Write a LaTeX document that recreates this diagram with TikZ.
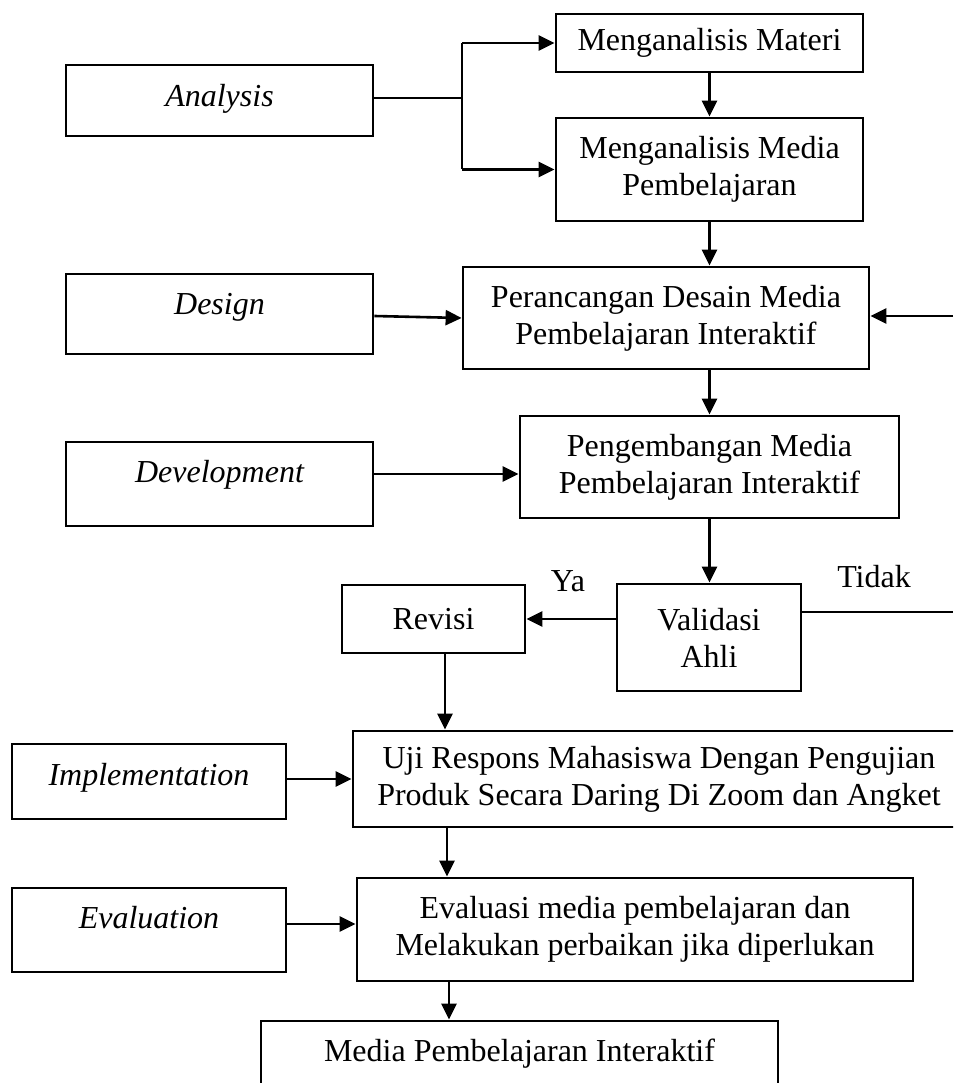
\documentclass[tikz,border=0pt]{standalone}
\usepackage{fontspec}
\setmainfont{Liberation Serif}
\usetikzlibrary{arrows.meta}
\begin{document}
\begin{tikzpicture}[x=1pt,y=-1pt,
  box/.style={draw,line width=2.8pt,inner sep=0pt,align=center,font=\fontsize{32}{37}\selectfont},
  lbl/.style={inner sep=0pt,anchor=base,font=\fontsize{32}{37}\selectfont},
  ln/.style={line width=2.6pt},
  arr/.style={line width=2.6pt,-{Triangle[length=16pt,width=15pt]}}]
\useasboundingbox (0,0) rectangle (953,1083);
\clip (0,0) rectangle (953,1083);
% left phase boxes
\node[box,minimum width=307,minimum height=71] (analysis) at (219.5,100.5) {};
\node[lbl] (analysisT) at (219.5,107) {\itshape Analysis};
\node[box,minimum width=307,minimum height=80] (design) at (219.5,314) {};
\node[lbl] (designT) at (219.5,314) {\itshape Design};
\node[box,minimum width=307,minimum height=84] (dev) at (219.5,484) {};
\node[lbl] (devT) at (219.5,482) {\itshape Development};
\node[box,minimum width=274,minimum height=75] (impl) at (149,781.5) {};
\node[lbl] (implT) at (149,785) {\itshape Implementation};
\node[box,minimum width=274,minimum height=84] (evalL) at (149,930) {};
\node[lbl] (evalLT) at (149,928) {\itshape Evaluation};
% main flow boxes
\node[box,minimum width=307,minimum height=58] (materi) at (709.5,43) {Menganalisis Materi};
\node[box,minimum width=307,minimum height=103] (media) at (709.5,169.5) {Menganalisis Media\\Pembelajaran};
\node[box,minimum width=406,minimum height=102] (peranc) at (666,318) {Perancangan Desain Media\\Pembelajaran Interaktif};
\node[box,minimum width=379,minimum height=102] (peng) at (709.5,467) {Pengembangan Media\\Pembelajaran Interaktif};
\node[box,minimum width=184,minimum height=107] (valid) at (709,637.5) {Validasi\\Ahli};
\node[box,minimum width=183,minimum height=68] (revisi) at (433.5,619) {Revisi};
\node[box,minimum width=612,minimum height=96] (uji) at (659,779) {Uji Respons Mahasiswa Dengan Pengujian\\Produk Secara Daring Di Zoom dan Angket};
\node[box,minimum width=556,minimum height=103] (evalR) at (635,929.5) {Evaluasi media pembelajaran dan\\Melakukan perbaikan jika diperlukan};
\node[box,minimum width=517,minimum height=65] (final) at (519.5,1053.5) {Media Pembelajaran Interaktif};
% labels
\node[lbl] (ya) at (568,591) {Ya};
\node[lbl] (tidak) at (874,587) {Tidak};
% guide coordinates
\coordinate (bT) at (462,43);
\coordinate (bM) at (462,98);
\coordinate (bB) at (462,169.5);
\coordinate (rightA) at (953,316);
\coordinate (rightB) at (953,612);
\coordinate (d1) at (0,474);
\coordinate (ev) at (0,924);
\coordinate (u1) at (447,0);
\coordinate (e1) at (449,0);
% connectors
\draw[ln] (analysis.east |- bM) -- (bM);
\draw[ln] (bT) -- (bB);
\draw[arr] (bT) -- (materi.west);
\draw[arr] (bB) -- (media.west);
\draw[arr] (materi.south) -- (media.north);
\draw[arr] (media.south) -- (media.south |- peranc.north);
\draw[arr] ([yshift=-2pt]design.east) -- (peranc.west);
\draw[arr] (rightA) -- (peranc.east |- rightA);
\draw[arr] (peng.north |- peranc.south) -- (peng.north);
\draw[arr] (dev.east |- d1) -- (peng.west |- d1);
\draw[arr] (peng.south) -- (peng.south |- valid.north);
\draw[arr] (valid.west |- revisi.east) -- (revisi.east);
\draw[ln] (valid.east |- rightB) -- (rightB);
\draw[arr] ([xshift=11.5pt]revisi.south) -- ([xshift=11.5pt]revisi.south |- uji.north);
\draw[arr] (impl.east |- uji.west) -- (uji.west);
\draw[arr] (uji.south -| u1) -- (evalR.north -| u1);
\draw[arr] (evalL.east |- ev) -- (evalR.west |- ev);
\draw[arr] (evalR.south -| e1) -- (final.north -| e1);
\end{tikzpicture}
\end{document}
